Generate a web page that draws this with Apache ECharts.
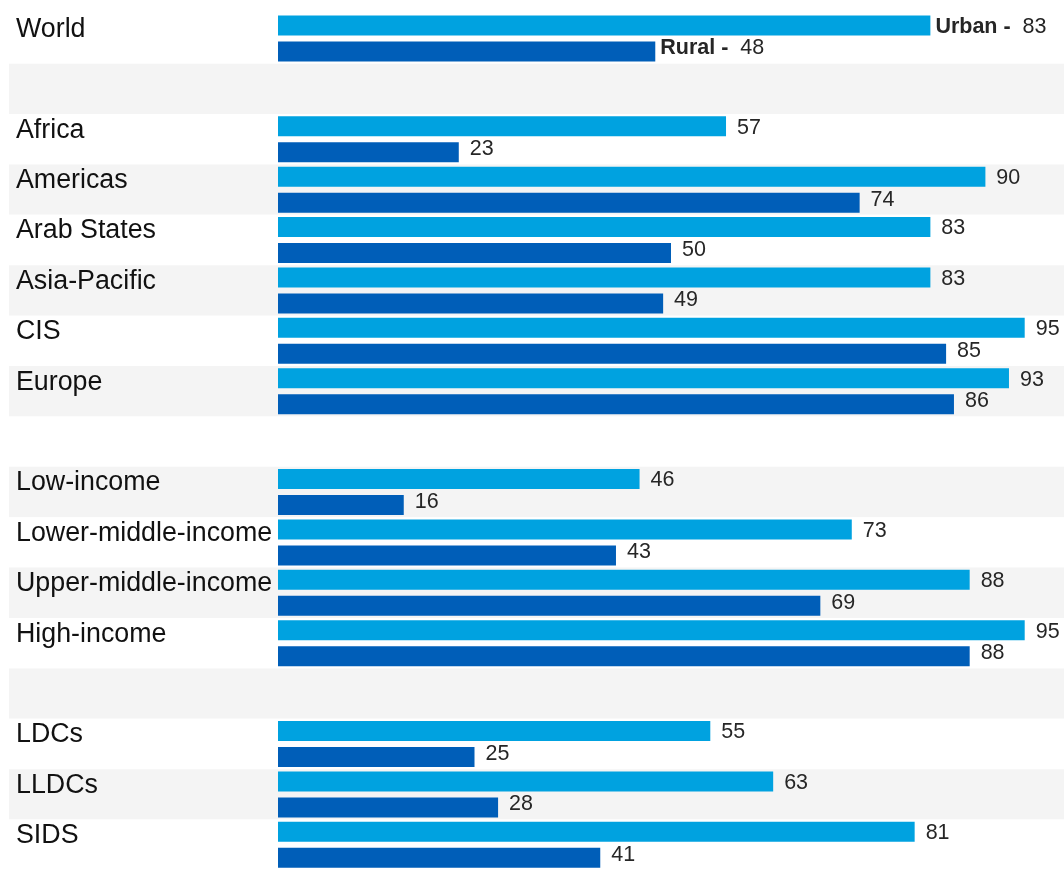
<!DOCTYPE html>
<html>
<head>
<meta charset="utf-8">
<script src="https://cdn.jsdelivr.net/npm/echarts@6/dist/echarts.min.js"></script>
<style>
  html, body { margin: 0; padding: 0; background: #ffffff; }
  #chart { width: 1064px; height: 870px; }
</style>
</head>
<body>
<div id="chart"></div>
<script>
// Row labels; blank rows separate the groups (distinct whitespace keeps them unique)
const categories = [
  'World', ' ',
  'Africa', 'Americas', 'Arab States', 'Asia-Pacific', 'CIS', 'Europe', '  ',
  'Low-income', 'Lower-middle-income', 'Upper-middle-income', 'High-income', '   ',
  'LDCs', 'LLDCs', 'SIDS'
];
const urban = [83, null, 57, 90, 83, 83, 95, 93, null, 46, 73, 88, 95, null, 55, 63, 81];
const rural = [48, null, 23, 74, 50, 49, 85, 86, null, 16, 43, 69, 88, null, 25, 28, 41];
const seriesNames = ['Urban', 'Rural'];

const FONT = '"Liberation Sans", Arial, Helvetica, sans-serif';
const gridTop = 13.25;
const gridHeight = 862.75;

function valueLabel(name, dy) {
  return {
    show: true,
    position: 'right',
    distance: 5,
    offset: [0, dy],
    fontFamily: FONT,
    fontSize: 21.5,
    color: '#262626',
    formatter: function (p) {
      if (p.value == null) return '';
      if (p.dataIndex === 0) return '{b|' + name + ' -}  ' + p.value;
      return ' ' + p.value;
    },
    rich: {
      b: { fontFamily: FONT, fontSize: 21.5, fontWeight: 'bold', color: '#262626' }
    }
  };
}

const chart = echarts.init(document.getElementById('chart'), null, { renderer: 'canvas' });
chart.setOption({
  animation: false,
  backgroundColor: '#ffffff',
  grid: [
    { left: 9, right: 0, top: gridTop, height: gridHeight },
    { left: 278, width: 787.4, top: gridTop, height: gridHeight }
  ],
  xAxis: [
    { gridIndex: 0, type: 'value', min: 0, max: 1, show: false },
    { gridIndex: 1, type: 'value', min: 0, max: 100, show: false }
  ],
  yAxis: [
    {
      gridIndex: 0,
      type: 'category',
      data: categories,
      inverse: true,
      axisLine: { show: false },
      axisTick: { show: false },
      splitLine: { show: false },
      splitArea: { show: true, areaStyle: { color: ['#ffffff', '#f4f4f4'] } },
      axisLabel: {
        inside: true,
        margin: 7,
        fontFamily: FONT,
        fontSize: 26.8,
        color: '#111111',
        verticalAlign: 'bottom',
        lineHeight: 18
      }
    },
    {
      gridIndex: 1,
      type: 'category',
      data: categories,
      inverse: true,
      show: false
    }
  ],
  series: [
    {
      name: seriesNames[0],
      type: 'bar',
      xAxisIndex: 1,
      yAxisIndex: 1,
      data: urban,
      barWidth: 20,
      barGap: '30%',
      itemStyle: { color: '#00a2e0' },
      label: valueLabel(seriesNames[0], 1.5)
    },
    {
      name: seriesNames[1],
      type: 'bar',
      xAxisIndex: 1,
      yAxisIndex: 1,
      data: rural,
      barWidth: 20,
      barGap: '30%',
      itemStyle: { color: '#005eb8' },
      label: valueLabel(seriesNames[1], -3)
    }
  ]
});
</script>
</body>
</html>
